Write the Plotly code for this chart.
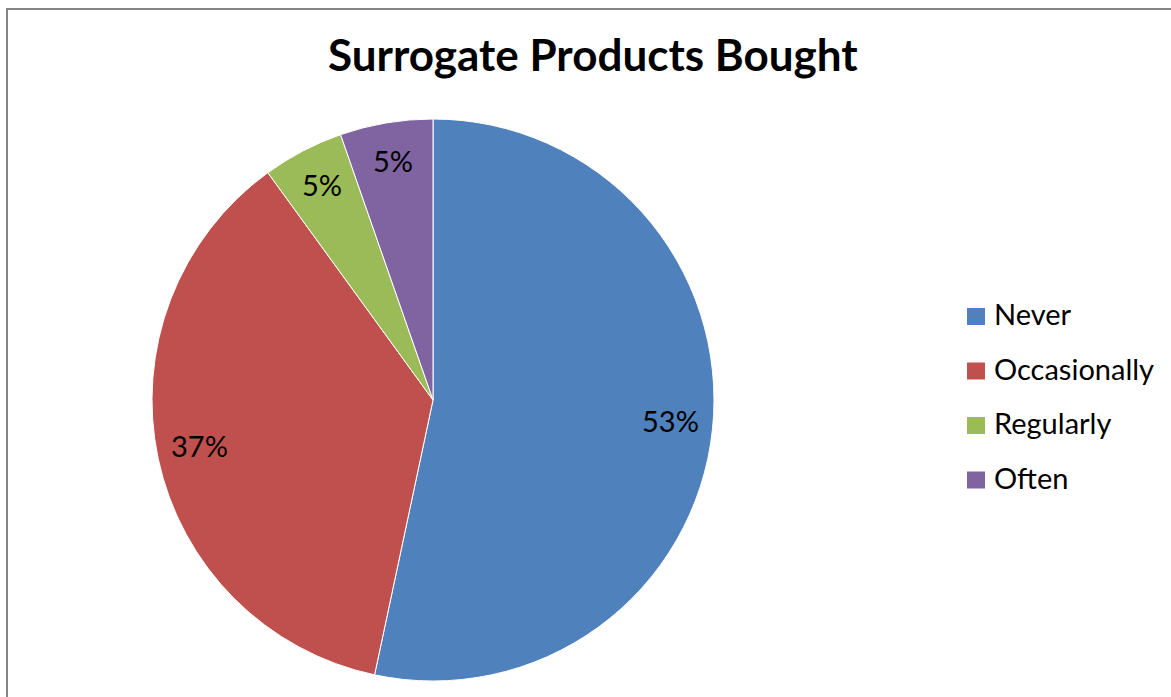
import math
import plotly.graph_objects as go

# Survey responses: how often surrogate products were bought
categories = ["Never", "Occasionally", "Regularly", "Often"]
counts = [80, 55, 7, 8]
colors = ["#4F81BD", "#C0504D", "#9BBB59", "#8064A2"]
title_text = "Surrogate Products Bought"

W, H = 1171, 697
FONT = "Lato"

# Pie placement in pixels
CX, CY, R = 433, 400, 281

fig = go.Figure()
fig.add_trace(go.Pie(
    labels=categories,
    values=counts,
    sort=False,
    direction="clockwise",
    rotation=0,
    marker=dict(colors=colors, line=dict(color="white", width=1)),
    textinfo="none",
    domain=dict(x=[(CX - R) / W, (CX + R) / W], y=[1 - (CY + R) / H, 1 - (CY - R) / H]),
    showlegend=False,
    hoverinfo="label+percent",
))

shapes = []
annotations = []

# Percentage labels placed along each slice's mid-angle
total = sum(counts)
cum = 0.0
label_r = 0.85 * R
text_lift = 4  # annotation boxes sit slightly low relative to the glyphs
for v in counts:
    frac = v / total
    mid = (cum + frac / 2) * 2 * math.pi  # clockwise from 12 o'clock
    cum += frac
    px = CX + label_r * math.sin(mid)
    py = CY - label_r * math.cos(mid) - text_lift
    annotations.append(dict(text=f"{round(frac * 100)}%", xref="paper", yref="paper",
                            x=px / W, y=1 - py / H, xanchor="center", yanchor="middle",
                            showarrow=False,
                            font=dict(family=FONT, size=29, color="black")))

# Legend: colour swatch + category name, stacked vertically
legend_top = 316.5
legend_step = 54.5
for i, (name, col) in enumerate(zip(categories, colors)):
    yc = legend_top + i * legend_step
    shapes.append(dict(type="rect", xref="paper", yref="paper",
                       x0=967 / W, x1=985 / W,
                       y0=1 - (yc - 8.5) / H, y1=1 - (yc + 8.5) / H,
                       fillcolor=col, line=dict(width=0)))
    annotations.append(dict(text=name, xref="paper", yref="paper",
                            x=992 / W, y=1 - (yc - 3) / H, xanchor="left", yanchor="middle",
                            showarrow=False,
                            font=dict(family=FONT, size=29, color="black")))

# Chart title
annotations.append(dict(text="<b>" + title_text + "</b>", xref="paper", yref="paper",
                        x=593 / W, y=1 - 54 / H, xanchor="center", yanchor="middle",
                        showarrow=False,
                        font=dict(family=FONT, size=44, color="black")))

# Outer chart frame
shapes.append(dict(type="rect", xref="paper", yref="paper",
                   x0=7 / W, x1=1.05, y0=1 - 9 / H, y1=-0.05,
                   line=dict(color="#868686", width=2), fillcolor="rgba(0,0,0,0)"))

fig.update_layout(
    width=W, height=H,
    margin=dict(l=0, r=0, t=0, b=0),
    paper_bgcolor="white",
    plot_bgcolor="white",
    shapes=shapes,
    annotations=annotations,
)

fig.write_html("out.html")
